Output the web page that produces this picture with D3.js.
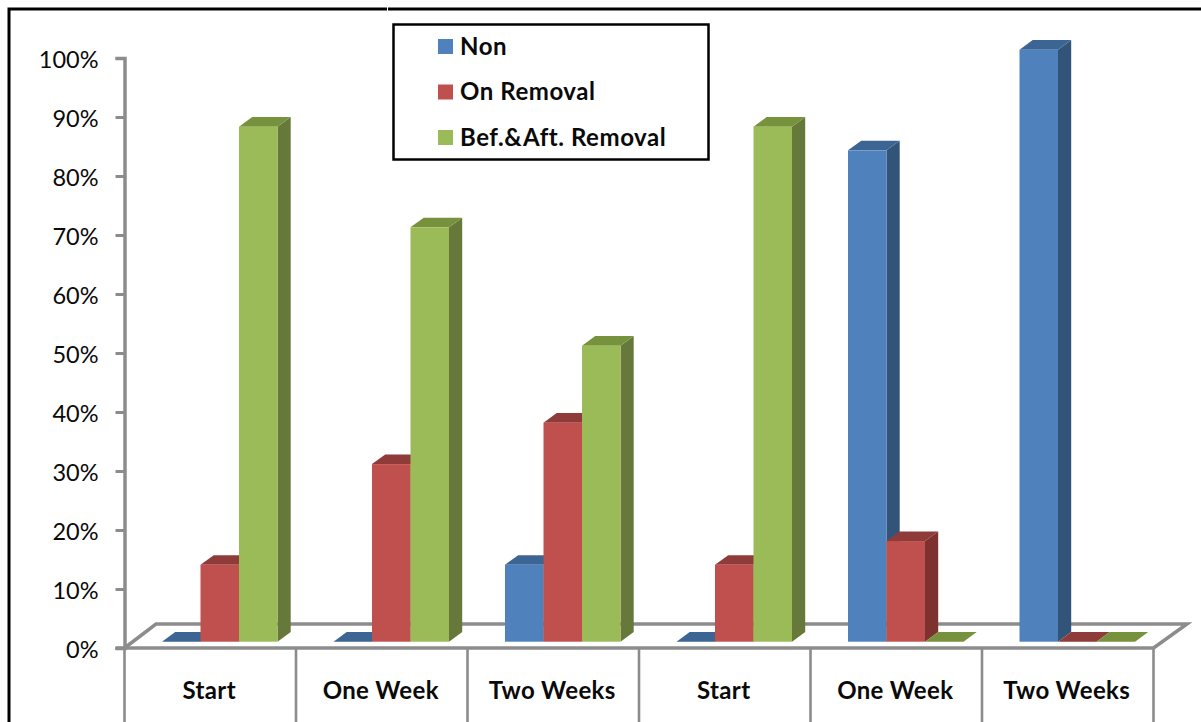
<!DOCTYPE html>
<html><head><meta charset="utf-8">
<script src="https://cdn.jsdelivr.net/npm/d3@7"></script>
<style>html,body{margin:0;padding:0;background:#fff}svg{display:block}text{font-family:Lato,"Open Sans",sans-serif;fill:#0a0a0a}</style>
</head><body><svg id="c" width="1201" height="722"></svg>
<script>
const categories = ["Start","One Week","Two Weeks","Start ","One Week ","Two Weeks "];
const seriesNames = ["Non","On Removal","Bef.&Aft. Removal"];
const non = [0,0,13,0,83,100];
const onRemoval = [13,30,37,13,17,0];
const befAft = [87,70,50,87,0,0];
const yTicks = [0,10,20,30,40,50,60,70,80,90,100];
const frontColors = ["#4f81bd","#c0504d","#9bbb59"];
const topColors = ["#3d6594","#8f3b39","#76923c"];
const sideColors = ["#335479","#7d3230","#66793a"];

const svg = d3.select("#c");
const gray = "#8c8c8c";
const series = [non,onRemoval,befAft];

// frame
svg.append("path").attr("d","M1201 9H9V722").attr("fill","none").attr("stroke","#000").attr("stroke-width",3);
svg.append("line").attr("x1",387.5).attr("x2",387.5).attr("y1",6).attr("y2",12).attr("stroke","#fff").attr("stroke-width",1);

const x = d3.scaleBand().domain(categories).range([124.5,1153.5]);
const y = d3.scaleLinear().domain([0,100]).range([648,58]);
const yBar = d3.scaleLinear().domain([0,100]).range([641.7,49.7]);
const xSeries = d3.scaleBand().domain(d3.range(3)).range([37.5,153]);
const dx = 13.2, dy = 9.6;

// floor back edges
svg.append("path").attr("d",`M124.5 648L156 624H1187L1153.5 648`).attr("fill","none").attr("stroke",gray).attr("stroke-width",3.5).attr("stroke-linejoin","miter");

// y axis
const axisG = svg.append("g").attr("transform","translate(124.5,0)")
  .call(d3.axisLeft(y).tickValues(yTicks).tickFormat(d=>d+"%").tickSize(9).tickPadding(17));
axisG.selectAll("path").attr("stroke",gray).attr("stroke-width",3.5);
axisG.selectAll("line").attr("stroke",gray).attr("stroke-width",3);
axisG.selectAll("text").attr("font-size",23.5).attr("dy","0.42em").style("font-family","Lato").attr("fill","#0a0a0a");

// bottom dividers + front axis
const edges = categories.map(c=>x(c)).concat([x.range()[1]]);
svg.selectAll(".div").data(edges).join("line").attr("class","div")
  .attr("x1",d=>d).attr("x2",d=>d).attr("y1",648).attr("y2",722).attr("stroke",gray).attr("stroke-width",2.6);
svg.append("line").attr("x1",x.range()[0]-9).attr("x2",x.range()[1]).attr("y1",648).attr("y2",648).attr("stroke",gray).attr("stroke-width",3.6);

// bars
categories.forEach((c,i)=>{
  const g = svg.append("g").attr("transform",`translate(${x(c)},0)`);
  series.forEach((vals,s)=>{
    const v = vals[i], x0 = xSeries(s), w = xSeries.bandwidth(), x1 = x0+w;
    const t = yBar(v), b = yBar(0);
    if (v>0) {
      g.append("path").attr("d",`M${x1} ${t}L${x1+dx} ${t-dy}V${b-dy}L${x1} ${b}Z`).attr("fill",sideColors[s]);
      g.append("path").attr("d",`M${x0} ${t}L${x0+dx} ${t-dy}H${x1+dx}L${x1} ${t}Z`).attr("fill",topColors[s]);
      g.append("rect").attr("x",x0).attr("y",t).attr("width",w).attr("height",b-t).attr("fill",frontColors[s]);
    } else {
      g.append("path").attr("d",`M${x0} ${t}L${x0+dx} ${t-dy}H${x1+dx}L${x1} ${t}Z`).attr("fill",topColors[s]);
    }
  });
});

// category labels
svg.selectAll(".cat").data(categories).join("text").attr("class","cat")
  .attr("x",d=>x(d)+x.bandwidth()/2-1).attr("y",699)
  .attr("text-anchor","middle").attr("font-size",24).attr("letter-spacing",0.35).attr("font-weight",700).text(d=>d.trim());

// legend
svg.append("rect").attr("x",393.5).attr("y",24.5).attr("width",315).attr("height",135)
  .attr("fill","#fff").attr("stroke","#000").attr("stroke-width",2.5);
const ly = d3.scalePoint().domain(seriesNames).range([46.5,137.5]);
svg.selectAll(".sw").data(seriesNames).join("rect").attr("class","sw")
  .attr("x",438).attr("y",d=>ly(d)-7.5).attr("width",15).attr("height",15)
  .attr("fill",(d,i)=>frontColors[i]);
svg.selectAll(".lt").data(seriesNames).join("text").attr("class","lt")
  .attr("x",460).attr("y",d=>ly(d)+8).attr("font-size",24).attr("letter-spacing",0.55).attr("font-weight",700).text(d=>d);
</script></body></html>
